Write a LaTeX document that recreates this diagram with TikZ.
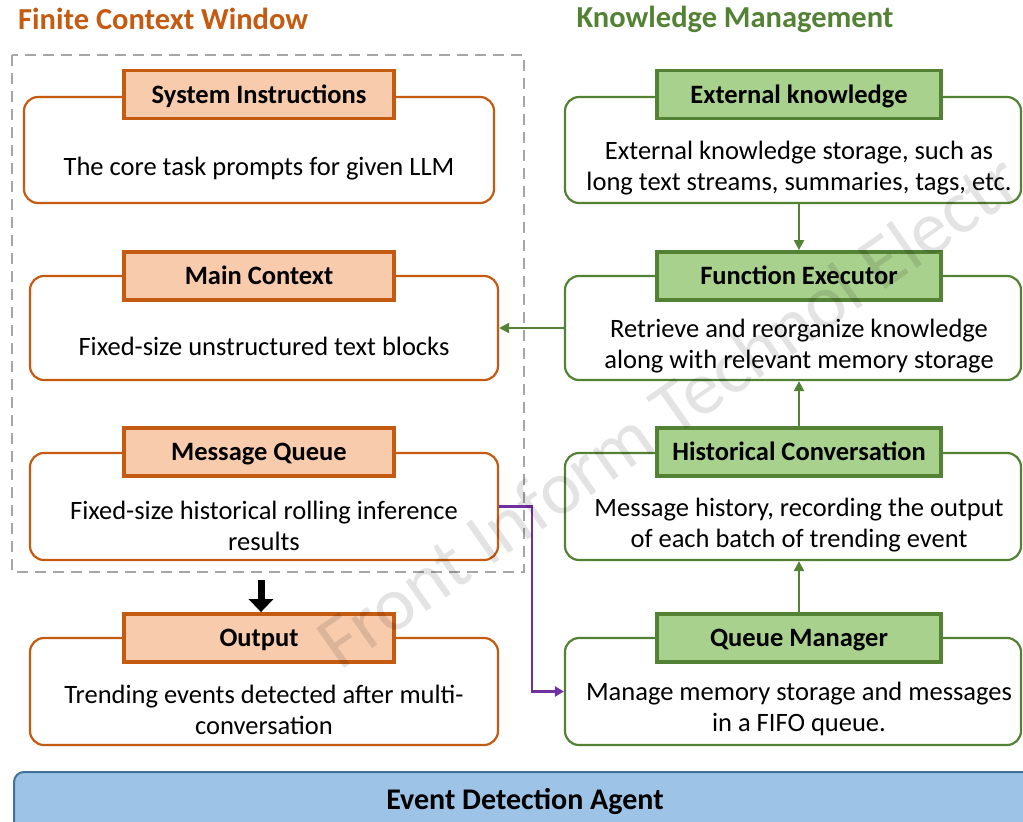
\documentclass[tikz,border=0pt]{standalone}
\usepackage{fontspec}
\setmainfont{Carlito}
\usetikzlibrary{arrows.meta}

\definecolor{orgline}{HTML}{C55A11}
\definecolor{orgfill}{HTML}{F8CBAD}
\definecolor{grnline}{HTML}{548235}
\definecolor{grnfill}{HTML}{A9D18E}
\definecolor{bluefill}{HTML}{9DC3E6}
\definecolor{blueline}{HTML}{41719C}
\definecolor{purp}{HTML}{7030A0}
\definecolor{dashgray}{HTML}{A6A6A6}

\tikzset{
  panel/.style={draw, rounded corners=14pt, line width=2.2pt, fill=white,
    inner sep=0pt},
  lpanel/.style={panel, draw=orgline, minimum width=468pt, minimum height=106pt},
  rpanel/.style={panel, draw=grnline, minimum width=456pt, minimum height=106pt},
  ltitle/.style={draw=orgline, fill=orgfill, line width=3.8pt, minimum width=270pt,
    minimum height=48pt, inner sep=0pt, text depth=1pt,
    font=\fontsize{26.5}{30}\selectfont\bfseries},
  rtitle/.style={draw=grnline, fill=grnfill, line width=3.8pt, minimum width=284pt,
    minimum height=48pt, inner sep=0pt, text depth=1pt,
    font=\fontsize{26.5}{30}\selectfont\bfseries},
  body/.style={align=center, inner sep=0pt, font=\fontsize{26.5}{31}\selectfont},
  header/.style={inner sep=0pt, font=\fontsize{30.5}{34}\selectfont\bfseries},
  garrow/.style={draw=grnline, line width=2.2pt, -{Triangle[width=10pt,length=10pt]}},
}

\begin{document}
\begin{tikzpicture}[x=1pt, y=-1pt]
\useasboundingbox (0,0) rectangle (1023,822);

% column headings
\node[header, text=orgline, anchor=west] (hleft) at (18,19) {Finite Context Window};
\node[header, text=grnline] (hright) at (735,19) {Knowledge Management};

% finite context window frame
\draw[dashgray, line width=2.2pt, dash pattern=on 11pt off 7pt] (12,55) rectangle (524,572);

% left column
\node[lpanel, minimum width=470pt] (si) at (259,150) {};
\node[body] (siText) at (259,169) {The core task prompts for given LLM};
\node[ltitle] (siTitle) at (259,94.5) {System Instructions};

\node[lpanel, minimum height=104pt] (mc) at (264,328) {};
\node[body] (mcText) at (264,346) {Fixed-size unstructured text blocks};
\node[ltitle] (mcTitle) at (259,276) {Main Context};

\node[lpanel, minimum height=107pt] (mq) at (264,506.5) {};
\node[body] (mqText) at (264,525.5) {Fixed-size historical rolling inference\\results};
\node[ltitle] (mqTitle) at (259,452) {Message Queue};

\node[lpanel, minimum height=107pt] (out) at (264,691.5) {};
\node[body] (outText) at (264,710) {Trending events detected after multi-\\conversation};
\node[ltitle] (outTitle) at (259,638) {Output};

% right column
\node[rpanel] (ek) at (793,150) {};
\node[body] (ekText) at (799,168) {External knowledge storage, such as\\long text streams, summaries, tags, etc.};
\node[rtitle] (ekTitle) at (799,94.5) {External knowledge};

\node[rpanel, minimum height=104pt] (fe) at (793,328) {};
\node[body] (feText) at (799,346) {Retrieve and reorganize knowledge\\along with relevant memory storage};
\node[rtitle] (feTitle) at (799,276) {Function Executor};

\node[rpanel, minimum height=107pt] (hc) at (793,506.5) {};
\node[body] (hcText) at (799,525.5) {Message history, recording the output\\of each batch of trending event};
\node[rtitle] (hcTitle) at (799,452) {Historical Conversation};

\node[rpanel, minimum height=107pt] (qm) at (793,691.5) {};
\node[body] (qmText) at (799,709) {Manage memory storage and messages\\in a FIFO queue.};
\node[rtitle] (qmTitle) at (799,638) {Queue Manager};

% connectors
\draw[garrow] (ek.south -| ekTitle.south) -- (feTitle.north);
\draw[garrow] (hcTitle.north) -- (fe.south -| feTitle.south);
\draw[garrow] (qmTitle.north) -- (hc.south -| hcTitle.south);
\draw[garrow] (fe.west) -- (mc.east);
\draw[purp, line width=2.2pt, -{Triangle[width=10pt,length=9pt]}]
  (mq.east) -- ++(33,0) |- (qm.west);

% step down to the output
\coordinate (downStart) at (261,580);
\draw[black, line width=7pt, -{Triangle[width=24pt,length=13pt]}]
  (downStart) -- (outTitle.north -| downStart);

% agent bar
\draw[draw=blueline, fill=bluefill, line width=2pt, rounded corners=10pt]
  (14,772) rectangle (1040,840);
\node[inner sep=0pt, font=\fontsize{30}{34}\selectfont\bfseries] (agent) at (525,801) {Event Detection Agent};

% publisher mark
\node[anchor=base west, rotate=35, inner sep=0pt, text=black, opacity=0.11,
  font=\fontsize{76}{84}\selectfont] (mark) at (340,672) {Front Inform Technol Electr};
\end{tikzpicture}
\end{document}
